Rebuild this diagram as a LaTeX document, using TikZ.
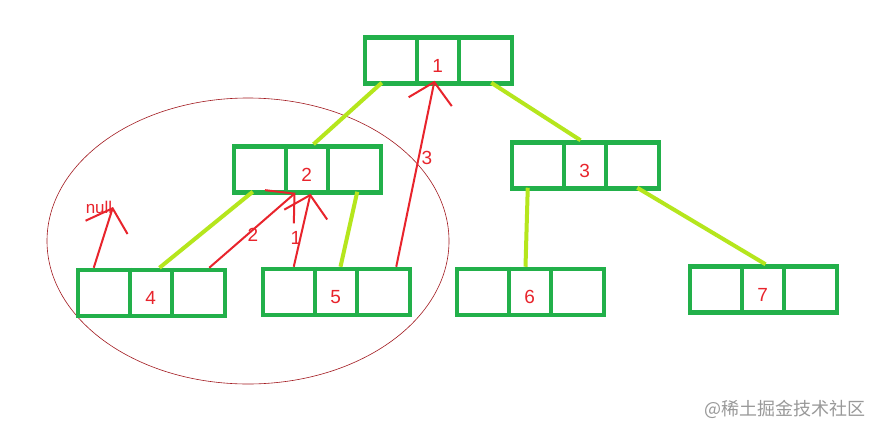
\documentclass[tikz,border=0pt]{standalone}
\usepackage{fontspec}
\setmainfont{Liberation Sans}
\newfontfamily\cjk{Noto Sans CJK SC}
\usetikzlibrary{arrows.meta}
\definecolor{bgreen}{HTML}{22B04A}
\definecolor{lgreen}{HTML}{B5E61D}
\definecolor{rred}{HTML}{E8242C}
\tikzset{
  cell/.style={draw=bgreen,line width=4.5pt,minimum width=147pt,minimum height=46pt,inner sep=0pt},
  link/.style={draw=lgreen,line width=4pt},
  ptr/.style={draw=rred,line width=2pt,-{Straight Barb[length=20pt,width=44pt,line width=2pt]}},
  num/.style={text=rred,font=\fontsize{19}{21}\selectfont},
}
\newcommand{\tbox}[4]{%
  \node[cell] (#1) at (#2,#3) {};
  \draw[draw=bgreen,line width=4.5pt] ([xshift=54pt]#1.north west) -- ([xshift=54pt]#1.south west)
    ([xshift=96pt]#1.north west) -- ([xshift=96pt]#1.south west);
  \node[num] (#1l) at ([xshift=75pt,yshift=-5pt]#1.west) {#4};
}
\begin{document}
\begin{tikzpicture}[x=1pt,y=-1pt]
\useasboundingbox[fill=white] (0,0) rectangle (874,426);
\draw[draw=rred!70!black,line width=0.6pt] (248,241) ellipse [x radius=201pt,y radius=143pt];
\tbox{b1}{438.5}{60.5}{1}
\tbox{b2}{307.5}{169.5}{2}
\tbox{b3}{585.5}{165.5}{3}
\tbox{b4}{151.5}{293}{4}
\tbox{b5}{336.5}{292}{5}
\tbox{b6}{530.5}{292}{6}
\tbox{b7}{763.5}{289.5}{7}
\draw[link] ([xshift=19pt,yshift=3pt]b1.south west) -- ([xshift=6pt]b2.north);
\draw[link] ([xshift=-23pt,yshift=3pt]b1.south east) -- ([xshift=-5pt]b3.north);
\draw[link] ([xshift=21pt,yshift=3pt]b2.south west) -- ([xshift=8pt]b4.north);
\draw[link] ([xshift=-26pt,yshift=3pt]b2.south east) -- ([xshift=4pt]b5.north);
\draw[link] ([xshift=18pt,yshift=3pt]b3.south west) -- ([xshift=-5pt]b6.north);
\draw[link] ([xshift=-24pt,yshift=3pt]b3.south east) -- ([xshift=2pt]b7.north);
\coordinate (nul) at (113,207);
\draw[ptr] ([xshift=18pt]b4.north west) -- (nul);
\node[text=rred,font=\fontsize{17}{19}\selectfont] (nl) at (99,207) {null};
\draw[ptr] ([xshift=-18pt]b4.north east) -- ([xshift=-12pt,yshift=2pt]b2.south);
\node[num] (l2) at (253,235) {2};
\draw[ptr] ([xshift=33pt]b5.north west) -- ([xshift=3pt,yshift=1pt]b2.south);
\node[num] (l1) at (296,238) {1};
\draw[ptr] ([xshift=-16pt]b5.north east) -- ([xshift=-4pt,yshift=5pt]b1.south);
\node[num] (l3) at (427,158) {3};
\node[text=black!40,font=\cjk\fontsize{18}{20}\selectfont] (wm) at (785,409) {@稀土掘金技术社区};
\end{tikzpicture}
\end{document}
